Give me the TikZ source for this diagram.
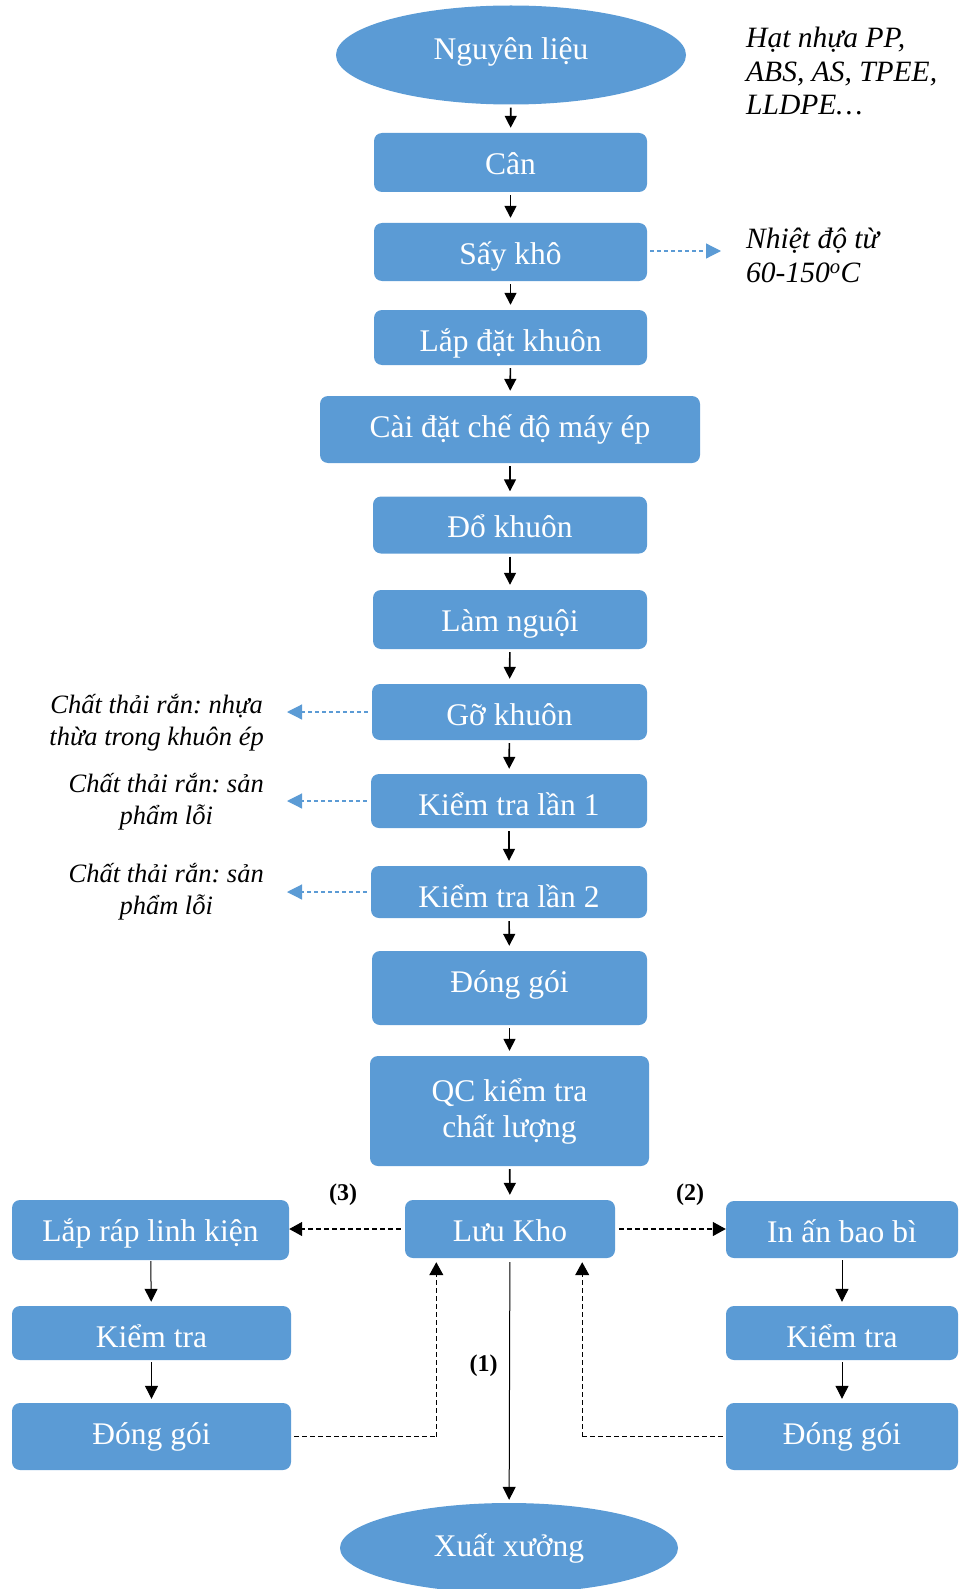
\documentclass[tikz,border=0pt]{standalone}
\usepackage{fontspec}
\setmainfont{Liberation Serif}
\frenchspacing
\usetikzlibrary{arrows.meta,shapes.geometric,calc}
\definecolor{boxblue}{HTML}{5B9BD5}
\begin{document}
\begin{tikzpicture}[x=1pt,y=-1pt,
  stepbox/.style={rectangle,rounded corners=8pt,fill=boxblue,draw=none,text=white,
    inner sep=0pt,align=center,text depth=8pt,font=\fontsize{31.5}{36}\selectfont},
  endbox/.style={ellipse,fill=boxblue,draw=none,text=white,inner sep=0pt,
    font=\fontsize{31.5}{36}\selectfont},
  note/.style={font=\itshape\fontsize{29.5}{33.5}\selectfont,inner sep=0pt},
  wastenote/.style={font=\itshape\fontsize{26.5}{31.5}\selectfont,inner sep=0pt,
    anchor=east,align=center},
  tag/.style={font=\bfseries\fontsize{24}{28}\selectfont,inner sep=0pt},
  flow/.style={line width=1.6pt,-{Triangle[width=12pt,length=12pt]},shorten <=3pt,shorten >=5pt},
  flowthin/.style={line width=1pt,-{Triangle[width=13pt,length=13pt]}},
  bluedash/.style={boxblue,line width=1.2pt,dash pattern=on 4pt off 3pt,
    -{Triangle[width=15pt,length=15pt]}},
  blackdash/.style={line width=1.2pt,dash pattern=on 5pt off 3pt,
    -{Triangle[width=14pt,length=13pt]}},
  plaindash/.style={line width=1.2pt,dash pattern=on 5pt off 3pt}]
\useasboundingbox (0,0) rectangle (961,1589);

% main column (text sits at a fixed distance below each box top)
\node[endbox,minimum width=350pt,minimum height=99pt,text height=23pt,text depth=13pt] (raw) at (511,55) {Nguyên liệu};
\node[stepbox,minimum width=273pt,minimum height=59pt,text height=31.8pt] (can) at (510.5,162.5) {Cân};
\node[stepbox,minimum width=273pt,minimum height=58pt,text height=32.8pt] (say) at (510.5,252) {Sấy khô};
\node[stepbox,minimum width=273pt,minimum height=55pt,text height=35.8pt] (mold) at (510.5,337.5) {Lắp đặt khuôn};
\node[stepbox,minimum width=380pt,minimum height=67pt,text height=23.8pt] (setup) at (510,429.5) {Cài đặt chế độ máy ép};
\node[stepbox,minimum width=274pt,minimum height=57pt,text height=33.8pt] (pour) at (510,525) {Đổ khuôn};
\node[stepbox,minimum width=274pt,minimum height=59pt,text height=31.8pt] (cool) at (510,619.5) {Làm nguội};
\node[stepbox,minimum width=275pt,minimum height=56pt,text height=34.8pt] (demold) at (509.5,712) {Gỡ khuôn};
\node[stepbox,minimum width=276pt,minimum height=54pt,text height=36.8pt] (chk1) at (509,801) {Kiểm tra lần 1};
\node[stepbox,minimum width=276pt,minimum height=52pt,text height=38.8pt] (chk2) at (509,892) {Kiểm tra lần 2};
\node[stepbox,minimum width=275pt,minimum height=74pt,text height=16.8pt] (pack) at (509.5,988) {Đóng gói};
\node[stepbox,minimum width=279pt,minimum height=110pt,text depth=] (qc) at (509.5,1111) {QC kiểm tra\\chất lượng};
\node[stepbox,minimum width=210pt,minimum height=58pt,text height=32.8pt] (store) at (510,1229) {Lưu Kho};
\node[endbox,minimum width=338pt,minimum height=90pt] (ship) at (509,1548) {Xuất xưởng};

% side branches
\node[stepbox,minimum width=277pt,minimum height=60pt,text height=30.8pt] (asm) at (150.5,1230) {Lắp ráp linh kiện};
\node[stepbox,minimum width=279pt,minimum height=54pt,text height=36.8pt] (chkL) at (151.5,1333) {Kiểm tra};
\node[stepbox,minimum width=279pt,minimum height=67pt,text height=23.8pt] (packL) at (151.5,1436.5) {Đóng gói};
\node[stepbox,minimum width=232pt,minimum height=57pt,text height=33.8pt] (print) at (842,1229.5) {In ấn bao bì};
\node[stepbox,minimum width=232pt,minimum height=54pt,text height=36.8pt] (chkR) at (842,1333) {Kiểm tra};
\node[stepbox,minimum width=232pt,minimum height=67pt,text height=23.8pt] (packR) at (842,1436.5) {Đóng gói};

% notes
\node[note,anchor=west,align=left] (matnote) at (746,71) {Hạt nhựa PP,\\ABS, AS, TPEE,\\LLDPE…};
\node[note,anchor=west,align=left] (tempnote) at (746,255.5) {Nhiệt độ từ\\60-150\textsuperscript{o}C};
\node[wastenote] (waste1) at (264,722.5) {Chất thải rắn: nhựa\\thừa trong khuôn ép};
\node[wastenote] (waste2) at (264,801.5) {Chất thải rắn: sản\\phẩm lỗi};
\node[wastenote] (waste3) at (264,891.5) {Chất thải rắn: sản\\phẩm lỗi};

\node[tag] (t3) at (343,1195) {(3)};
\node[tag] (t2) at (690,1195) {(2)};
\node[tag] (t1) at (483.5,1366) {(1)};

% main flow
\draw[flow] (raw) -- (can);
\draw[flow] (can) -- (say);
\draw[flow] (say) -- (mold);
\draw[flow] (mold) -- (setup);
\draw[flow] (setup) -- (pour);
\draw[flow] (pour) -- (cool);
\draw[flow] (cool) -- (demold);
\draw[flow] (demold) -- (chk1);
\draw[flow] (chk1) -- (chk2);
\draw[flow] (chk2) -- (pack);
\draw[flow] (pack) -- (qc);
\draw[flow] (qc) -- (store);
\draw[flowthin,shorten <=4pt,shorten >=3pt] (store) -- (ship);

% branch flows
\draw[flowthin,shorten <=1pt,shorten >=4pt] (asm) -- (chkL);
\draw[flowthin,shorten <=2pt,shorten >=4pt] (chkL) -- (packL);
\draw[flowthin,shorten <=2pt,shorten >=4pt] (print) -- (chkR);
\draw[flowthin,shorten <=2pt,shorten >=4pt] (chkR) -- (packR);

% side outputs
\coordinate (tempend) at (721,251);
\coordinate (w1end) at (287,712);
\coordinate (w2end) at (287,801);
\coordinate (w3end) at (287,892);
\draw[bluedash,shorten <=3pt] (say.east |- tempend) -- (tempend);
\draw[bluedash,shorten <=4pt] (demold.west |- w1end) -- (w1end);
\draw[bluedash,shorten <=4pt] (chk1.west |- w2end) -- (w2end);
\draw[bluedash,shorten <=4pt] (chk2.west |- w3end) -- (w3end);

% warehouse routes
\draw[blackdash,shorten <=4pt] (store.west) -- (store.west -| asm.east);
\draw[blackdash,shorten <=4pt] (store.east) -- (store.east -| print.west);
\coordinate (retL) at ($(store.south west)+(31.5,4)$);
\coordinate (retR) at ($(store.south east)+(-33,4)$);
\draw[plaindash,shorten <=3pt] (packL.east) -- (packL.east -| retL);
\draw[blackdash] (packL.east -| retL) -- (retL);
\draw[plaindash,shorten <=3pt] (packR.west) -- (packR.west -| retR);
\draw[blackdash] (packR.west -| retR) -- (retR);
\end{tikzpicture}
\end{document}
